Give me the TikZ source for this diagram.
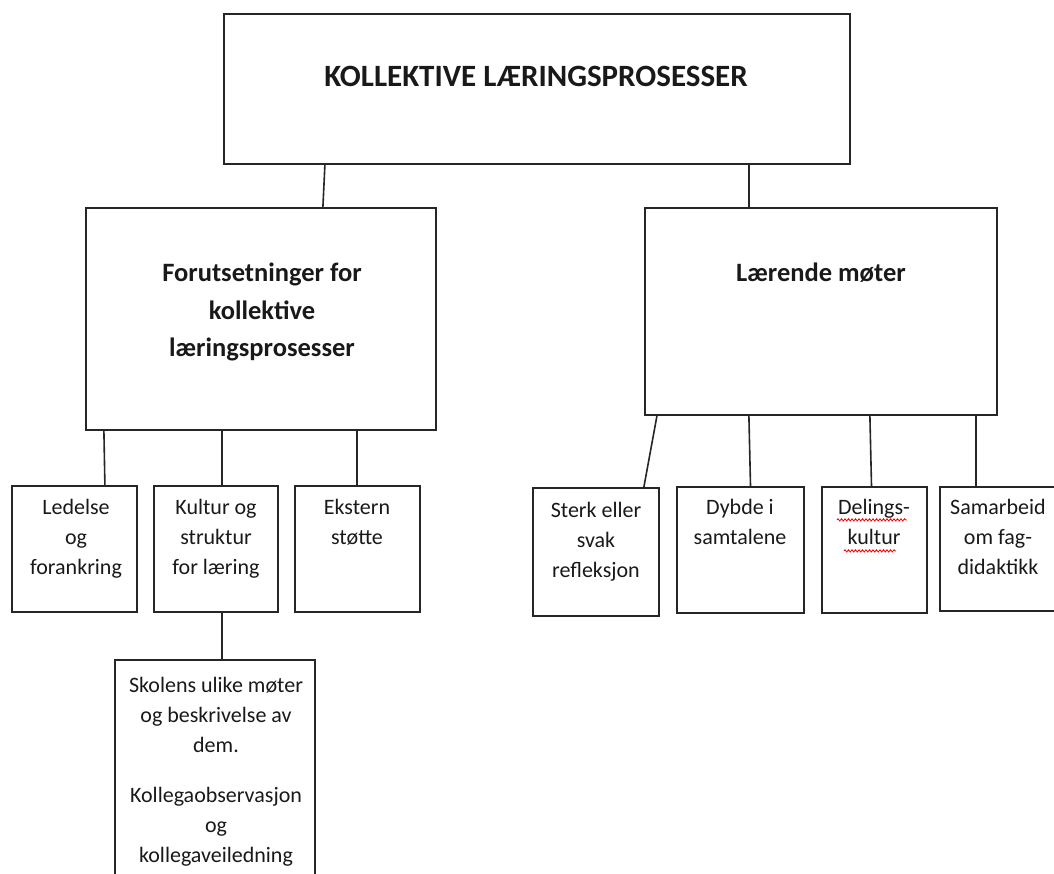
\documentclass[tikz,border=0pt]{standalone}
\usepackage{fontspec}
\setmainfont{Carlito}
\usetikzlibrary{decorations.pathmorphing}
\tikzset{
  box/.style={draw=black!85, line width=2.2pt, inner sep=0pt},
  wire/.style={draw=black!85, line width=1.6pt},
  txt/.style={anchor=north, align=center, inner sep=0pt, text=black!90},
  body/.style={txt, font=\fontsize{22}{30}\selectfont},
  head/.style={txt, font=\bfseries\fontsize{26.5}{37.5}\selectfont},
  spell/.style={draw=red, line width=0.8pt, decorate, decoration={snake, amplitude=1.1pt, segment length=3.5pt}}
}
\begin{document}
\begin{tikzpicture}[x=1pt, y=-1pt]
\useasboundingbox (0,0) rectangle (1054,874);
% boxes
\node[box, minimum width=626, minimum height=150] (top) at (537,89) {};
\node[box, minimum width=350, minimum height=222] (pre) at (261,319) {};
\node[box, minimum width=352, minimum height=207] (lm) at (821,311.5) {};
\node[box, minimum width=125, minimum height=126] (led) at (74.5,549) {};
\node[box, minimum width=124, minimum height=126] (kul) at (216,549) {};
\node[box, minimum width=125, minimum height=126] (eks) at (357.5,549) {};
\node[box, minimum width=200, minimum height=230] (sko) at (215,775) {};
\node[box, minimum width=126, minimum height=128] (ste) at (596,552) {};
\node[box, minimum width=127, minimum height=126] (dyb) at (740.5,550) {};
\node[box, minimum width=105, minimum height=126] (del) at (874.5,550) {};
\node[box, minimum width=120, minimum height=124] (sam) at (1000,549) {};
% texts
\node[txt, font=\bfseries\fontsize{31}{36}\selectfont] (ttop) at (536,66) {KOLLEKTIVE LÆRINGSPROSESSER};
\node[head] (tpre) at (262,263) {Forutsetninger for\\kollektive\\læringsprosesser};
\node[head] (tlm) at (821,263) {Lærende møter};
\node[body] (tled) at (76,499) {Ledelse\\og\\forankring};
\node[body] (tkul) at (216,499) {Kultur og\\struktur\\for læring};
\node[body] (teks) at (357,499) {Ekstern\\støtte};
\node[body] (tsko) at (216,677) {Skolens ulike møter\\og beskrivelse av\\dem.\\[20pt]Kollegaobservasjon\\og\\kollegaveiledning};
\node[body] (tste) at (596,502) {Sterk eller\\svak\\refleksjon};
\node[body] (tdyb) at (740,499) {Dybde i\\samtalene};
\node[body] (tdel) at (874,499) {Delings-\\kultur};
\node[body] (tsam) at (998,499) {Samarbeid\\om fag-\\didaktikk};
% spell-check marks
\draw[spell] ([xshift=16pt, yshift=-34pt]del.north west) -- ([xshift=86pt, yshift=-34pt]del.north west);
\draw[spell] ([xshift=23pt, yshift=-65pt]del.north west) -- ([xshift=75pt, yshift=-65pt]del.north west);
% connectors
\draw[wire] ([xshift=102pt]top.south west) -- ([xshift=238pt]pre.north west);
\draw[wire] ([xshift=526pt]top.south west) -- ([xshift=105pt]lm.north west);
\draw[wire] ([xshift=19pt]pre.south west) -- ([xshift=94pt]led.north west);
\draw[wire] ([xshift=137pt]pre.south west) -- ([xshift=69pt]kul.north west);
\draw[wire] ([xshift=272pt]pre.south west) -- ([xshift=63pt]eks.north west);
\draw[wire] ([xshift=69pt]kul.south west) -- ([xshift=108pt]sko.north west);
\draw[wire] ([xshift=13pt]lm.south west) -- ([xshift=112pt]ste.north west);
\draw[wire] ([xshift=105pt]lm.south west) -- ([xshift=10pt]dyb.north);
\draw[wire] ([xshift=226pt]lm.south west) -- ([xshift=-3pt]del.north);
\draw[wire] ([xshift=332pt]lm.south west) -- ([xshift=37pt]sam.north west);
\end{tikzpicture}
\end{document}
